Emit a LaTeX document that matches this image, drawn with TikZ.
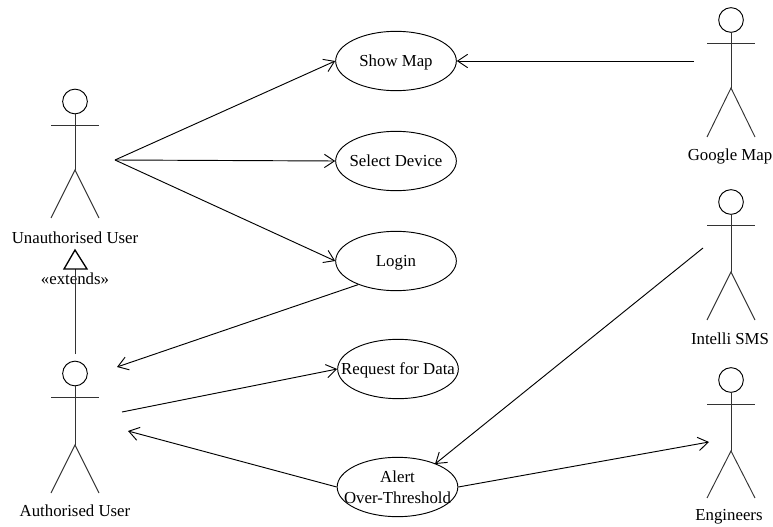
\documentclass[tikz,border=0pt]{standalone}
\usepackage{fontspec}
\setmainfont{Liberation Serif}
\usetikzlibrary{arrows.meta,shapes.geometric}
\tikzstyle{lb}=[inner sep=0pt,font=\fontsize{12.6}{15.8}\selectfont]
\tikzstyle{uc}=[style=lb,ellipse,draw=black,line width=0.7pt,inner xsep=-14pt,inner ysep=0pt,minimum width=90.5pt,minimum height=44.5pt]
\tikzstyle{ul}=[style=uc,text height=10.5pt,text depth=2pt]
\tikzstyle{hd}=[circle,draw=black,line width=0.7pt,inner sep=0pt,minimum size=18.5pt]
\tikzstyle{as}=[-{Straight Barb[length=7.5pt,width=10pt]},line width=0.7pt]
\tikzstyle{st}=[line width=0.7pt,draw=black!80]
\tikzstyle{none}=[]

\begin{document}
\begin{tikzpicture}[x=0.75pt,y=-0.75pt]
            \useasboundingbox (0,0) rectangle (773,527);
            % use cases
            \node [style=ul] (0) at (396, 61) {Show Map};
            \node [style=ul] (1) at (396, 161) {Select Device};
            \node [style=ul] (2) at (396, 261) {Login};
            \node [style=ul] (3) at (398, 369) {Request for Data};
            \node [style=uc,align=center] (4) at (397.5, 487) {Alert\\Over-Threshold};
            % unauthorised user
            \node [style=hd] (10) at (75, 101.5) {};
            \node [style=none] (11) at (51, 125) {};
            \node [style=none] (12) at (99, 125) {};
            \node [style=none] (13) at (75, 170) {};
            \node [style=none] (14) at (51, 218) {};
            \node [style=none] (15) at (99, 218) {};
            \node [style=lb] (16) at (75, 238) {Unauthorised User};
            % authorised user
            \node [style=hd] (20) at (75, 373.5) {};
            \node [style=none] (21) at (51, 397.5) {};
            \node [style=none] (22) at (99, 397.5) {};
            \node [style=none] (23) at (75, 445) {};
            \node [style=none] (24) at (51, 493) {};
            \node [style=none] (25) at (99, 493) {};
            \node [style=lb] (26) at (75, 511) {Authorised User};
            % google map
            \node [style=hd] (30) at (731, 20) {};
            \node [style=none] (31) at (707, 43) {};
            \node [style=none] (32) at (755, 43) {};
            \node [style=none] (33) at (731, 88) {};
            \node [style=none] (34) at (707, 137) {};
            \node [style=none] (35) at (755, 137) {};
            \node [style=lb] (36) at (730, 156) {Google Map};
            % intelli sms
            \node [style=hd] (40) at (731, 202) {};
            \node [style=none] (41) at (707, 225) {};
            \node [style=none] (42) at (755, 225) {};
            \node [style=none] (43) at (731, 272) {};
            \node [style=none] (44) at (707, 320) {};
            \node [style=none] (45) at (755, 320) {};
            \node [style=lb] (46) at (730, 339) {Intelli SMS};
            % engineers
            \node [style=hd] (50) at (731, 380) {};
            \node [style=none] (51) at (707, 404) {};
            \node [style=none] (52) at (755, 404) {};
            \node [style=none] (53) at (731, 451) {};
            \node [style=none] (54) at (707, 498) {};
            \node [style=none] (55) at (755, 498) {};
            \node [style=lb] (56) at (729, 517) {Engineers};
            % free ends
            \node [style=none] (60) at (115, 160) {};
            \node [style=none] (61) at (694, 61) {};
            \node [style=none] (62) at (117, 367) {};
            \node [style=none] (63) at (122, 412) {};
            \node [style=none] (64) at (128, 431) {};
            \node [style=none] (65) at (709, 442) {};
            \node [style=none] (66) at (703, 248) {};
            \node [style=none] (67) at (435, 464) {};
            % extends
            \node [style=none] (70) at (75, 354) {};
            \node [style=none] (71) at (75, 269) {};
            \node [style=none] (72) at (75, 250) {};
            \node [style=none] (73) at (64, 269) {};
            \node [style=none] (74) at (87, 269) {};
            \node [style=lb] (75) at (75, 279) {«extends»};
            \draw [style=st] (10) to (13.center);
            \draw [style=st] (11.center) to (12.center);
            \draw [style=st] (14.center) to (13.center) to (15.center);
            \draw [style=st] (20) to (23.center);
            \draw [style=st] (21.center) to (22.center);
            \draw [style=st] (24.center) to (23.center) to (25.center);
            \draw [style=st] (30) to (33.center);
            \draw [style=st] (31.center) to (32.center);
            \draw [style=st] (34.center) to (33.center) to (35.center);
            \draw [style=st] (40) to (43.center);
            \draw [style=st] (41.center) to (42.center);
            \draw [style=st] (44.center) to (43.center) to (45.center);
            \draw [style=st] (50) to (53.center);
            \draw [style=st] (51.center) to (52.center);
            \draw [style=st] (54.center) to (53.center) to (55.center);
            \draw [style=as] (60.center) to (0.west);
            \draw [style=as] (60.center) to (1.west);
            \draw [style=as] (60.center) to (2.west);
            \draw [style=as] (61.center) to (0.east);
            \draw [style=as] (2.212) to (62.center);
            \draw [style=as] (63.center) to (3.west);
            \draw [style=as] (4.west) to (64.center);
            \draw [style=as] (4.east) to (65.center);
            \draw [style=as] (66.center) to (67.center);
            \draw [style=st] (70.center) to (71.center);
            \draw [line width=1pt] (72.center) to (73.center) to (74.center) to cycle;
\end{tikzpicture}
\end{document}
